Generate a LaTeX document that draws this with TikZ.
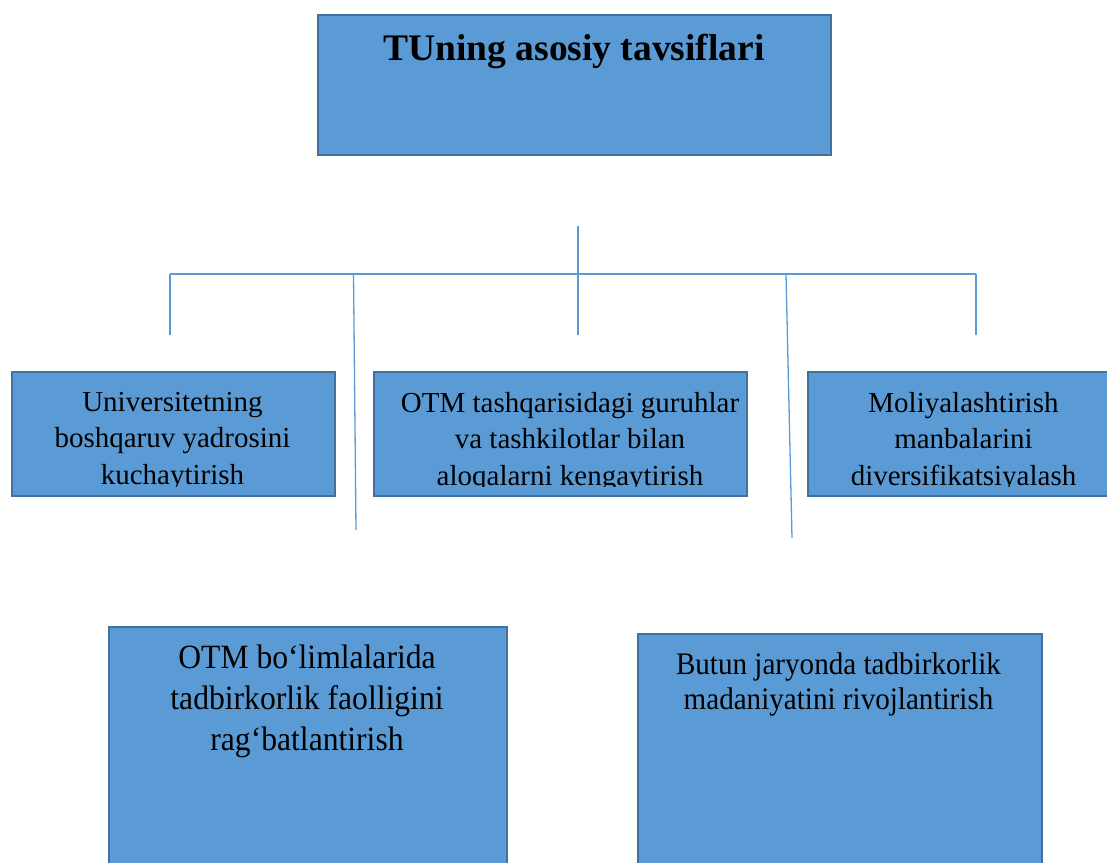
\documentclass[tikz,border=0pt]{standalone}
\usepackage{fontspec}
\setmainfont{Liberation Serif}
\newfontfamily\condfont[FakeStretch=0.93]{Liberation Serif}
\definecolor{boxfill}{HTML}{5B9BD5}
\definecolor{boxline}{HTML}{41719C}
\definecolor{conn}{HTML}{5B9BD5}
\begin{document}
\begin{tikzpicture}[x=1pt,y=-1pt,
  bluebox/.style={draw=boxline,fill=boxfill,line width=2pt,anchor=north west,inner sep=0pt},
  rowtext/.style={anchor=north,align=center,inner sep=0pt,text=black,font=\fontsize{29}{36.5}\selectfont},
  link/.style={draw=conn,line width=1.3pt}]
\useasboundingbox (0,0) rectangle (1107,862);
\clip (0,0) rectangle (1107,862);
% top box
\node[bluebox,minimum width=513pt,minimum height=140pt] (top) at (317,14) {};
\node[anchor=base,inner sep=0pt,font=\fontsize{37.5}{40}\selectfont\bfseries] (toptext) at (574,60) {TUning asosiy tavsiflari};
% connectors
\coordinate (hub) at (578,226);
\coordinate (hubB) at (578,274);
\coordinate (jL) at (170,274);
\coordinate (jR) at (976,274);
\coordinate (dL) at (170,335);
\coordinate (dC) at (578,335);
\coordinate (dR) at (976,335);
\coordinate (s1t) at (353.5,274);
\coordinate (s1b) at (356,530);
\coordinate (s2t) at (786,274);
\coordinate (s2b) at (792,538);
\draw[link] (hub) -- (hubB);
\draw[link] (jL) -- (jR);
\draw[link] (jL) -- (dL);
\draw[link] (hubB) -- (dC);
\draw[link] (jR) -- (dR);
\draw[link] (s1t) -- (s1b);
\draw[link] (s2t) -- (s2b);
% row 2 boxes
\node[bluebox,minimum width=323pt,minimum height=124pt] (b1) at (11,371) {};
\node[bluebox,minimum width=373pt,minimum height=124pt] (b2) at (373,371) {};
\node[bluebox,minimum width=320pt,minimum height=124pt] (b3) at (807,371) {};
\begin{scope}
\clip (13,373) rectangle (332,486);
\node[rowtext] (t1) at (172.5,392) {Universitetning\\boshqaruv yadrosini\\kuchaytirish};
\end{scope}
\begin{scope}
\clip (375,373) rectangle (744,486);
\node[rowtext] (t2) at (570,392) {OTM tashqarisidagi guruhlar\\va tashkilotlar bilan\\aloqalarni kengaytirish};
\end{scope}
\begin{scope}
\clip (809,373) rectangle (1107,486);
\node[rowtext] (t3) at (963.5,392) {Moliyalashtirish\\manbalarini\\diversifikatsiyalash};
\end{scope}
% bottom boxes
\node[bluebox,minimum width=398pt,minimum height=280pt] (b4) at (108,626) {};
\node[rowtext,font=\condfont\fontsize{34}{41}\selectfont] (t4) at (307,644.5) {OTM bo‘limlalarida\\tadbirkorlik faolligini\\rag‘batlantirish};
\node[bluebox,minimum width=404pt,minimum height=280pt] (b5) at (637,633) {};
\node[rowtext,font=\condfont\fontsize{31.3}{35}\selectfont] (t5) at (838.5,652.5) {Butun jaryonda tadbirkorlik\\madaniyatini rivojlantirish};
\end{tikzpicture}
\end{document}
